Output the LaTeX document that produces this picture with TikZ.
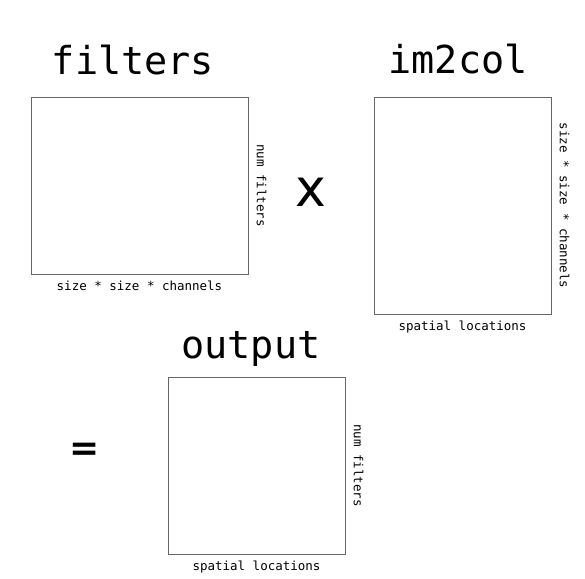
\documentclass[tikz,border=0pt]{standalone}
\usepackage{fontspec}
\setmonofont{DejaVu Sans Mono}
\setsansfont{DejaVu Sans}
\usepackage{tikz}
\usetikzlibrary{positioning}
\usepackage{xcolor}

\definecolor{boxgray}{HTML}{666666}

\tikzset{
  matrixbox/.style={draw=boxgray, line width=1pt, fill=white, inner sep=0pt},
  title/.style={inner sep=0pt, font=\fontsize{38.5}{40}\selectfont\ttfamily},
  dimlabel/.style={inner sep=0pt, font=\fontsize{12.5}{14}\selectfont\ttfamily},
  operator/.style={inner sep=0pt, font=\fontsize{52}{54}\selectfont\sffamily}
}

\begin{document}
\begin{tikzpicture}[x=1pt, y=-1pt]
  \useasboundingbox (0,0) rectangle (585,578);

  % Matrix of filters
  \node [matrixbox,
    minimum width=217pt,
    minimum height=177pt] (filters) at (139.5,185.5) {};
  \node [title, anchor=base] (filterstitle) at (133,74) {filters};
  \node [dimlabel, below=6.5pt of filters] (filterscols) {size * size * channels};
  \node [dimlabel, rotate=-90, anchor=south] (filtersrows)
    at ([xshift=8pt]filters.east) {num filters};

  % Multiplication sign
  \node [operator] (times) at (311,192) {x};

  % Matrix from im2col
  \node [matrixbox,
    minimum width=177pt,
    minimum height=217pt] (im2col) at (462.5,205.5) {};
  \node [title, anchor=base] (im2coltitle) at (458,73) {im2col};
  \node [dimlabel, below=6.5pt of im2col] (im2colcols) {spatial locations};
  \node [dimlabel, rotate=-90, anchor=south] (im2colrows)
    at ([xshift=8pt]im2col.east) {size * size * channels};

  % Equals sign
  \node [operator, font=\fontsize{36}{38}\selectfont\sffamily\bfseries]
    (equals) at (85,452) {=};

  % Output matrix
  \node [matrixbox,
    minimum width=177pt,
    minimum height=177pt] (output) at (256.5,465.5) {};
  \node [title, anchor=base] (outputtitle) at (251,358) {output};
  \node [dimlabel, below=6.5pt of output] (outputcols) {spatial locations};
  \node [dimlabel, rotate=-90, anchor=south] (outputrows)
    at ([xshift=8pt]output.east) {num filters};
\end{tikzpicture}
\end{document}
